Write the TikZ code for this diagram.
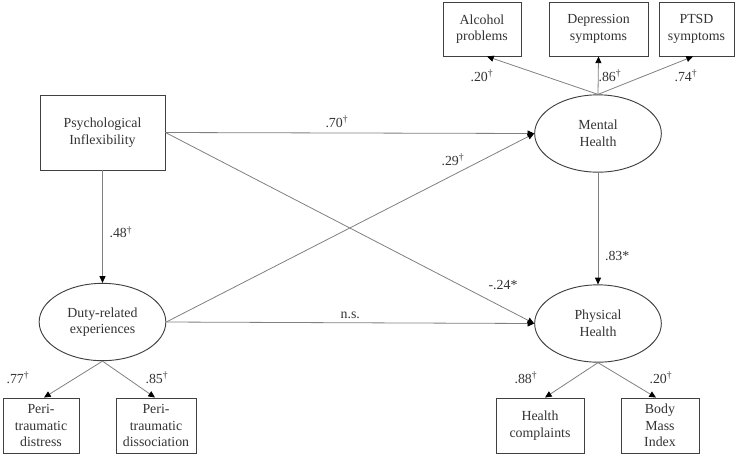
\documentclass[tikz,border=0pt]{standalone}
\usepackage{fontspec}
\setmainfont{Liberation Serif}
\usetikzlibrary{shapes.geometric, arrows.meta}

\newcommand{\sigdag}{\textsuperscript{\textdagger}}

\tikzset{
  obs/.style={draw=black!75, line width=0.7pt, align=center, inner sep=0pt, text=black!80},
  lat/.style={draw=black!75, ellipse, line width=0.7pt, align=center, inner sep=0pt,
              minimum width=95pt, minimum height=58pt, text=black!80},
  reg/.style={draw=black!50, line width=0.6pt, -{Triangle[length=5pt, width=4.5pt, color=black]}},
  coef/.style={text=black!80, inner sep=1pt}
}

\begin{document}
\begin{tikzpicture}[x=0.75pt, y=-0.75pt, font=\fontsize{10.4}{12.5}\selectfont]
    \useasboundingbox (0,0) rectangle (739,455);

    % structural part
    \node[obs, minimum width=93.75pt, minimum height=56.25pt] (psych) at (102.5,132.5) {Psychological\\Inflexibility};
    \node[lat] (duty) at (102.5,322) {Duty-related\\experiences};
    \node[lat] (mental) at (598,133.5) {Mental\\Health};
    \node[lat] (physical) at (598,323.5) {Physical\\Health};

    % indicators
    \node[obs, minimum width=58.5pt, minimum height=40.5pt] (alcohol) at (482,29) {Alcohol\\problems};
    \node[obs, minimum width=74.25pt, minimum height=40.5pt] (depress) at (598.5,29) {Depression\\symptoms};
    \node[obs, minimum width=56.25pt, minimum height=40.5pt] (ptsd) at (696.5,29) {PTSD\\symptoms};
    \node[obs, minimum width=57pt, minimum height=41.25pt] (distress) at (41,425.5) {Peri-\\traumatic\\distress};
    \node[obs, minimum width=60pt, minimum height=41.25pt] (dissoc) at (156,425.5) {Peri-\\traumatic\\dissociation};
    \node[obs, minimum width=66pt, minimum height=41.25pt] (complaints) at (540,425.5) {Health\\complaints};
    \node[obs, minimum width=58.5pt, minimum height=41.25pt] (bmi) at (660,425.5) {Body\\Mass\\Index};

    % regressions
    \draw[reg] (psych.east) -- (mental.west) node[coef, pos=0.465, above=3pt] {.70\sigdag};
    \draw[reg] (psych.south) -- (duty.north) node[coef, pos=0.55, right=4pt] {.48\sigdag};
    \draw[reg] (psych.east) -- (physical.west);
    \draw[reg] (duty.east) -- (mental.west);
    \draw[reg] (duty.east) -- (physical.west) node[coef, midway, above=2pt] {n.s.};
    \draw[reg] (mental.south) -- (physical.north) node[coef, pos=0.745, right=4pt] {.83*};
    \node[coef] (c29) at (453,160) {.29\sigdag};
    \node[coef] (c24) at (503,285) {-.24*};

    % loadings
    \draw[reg] (mental.north) -- (alcohol.south -| 487,0);
    \draw[reg] (mental.north) -- (depress.south);
    \draw[reg] (mental.north) -- (ptsd.south -| 693,0);
    \draw[reg] (duty.south) -- (distress.north -| 44,0);
    \draw[reg] (duty.south) -- (dissoc.north -| 155,0);
    \draw[reg] (physical.south) -- (complaints.north -| 545,0);
    \draw[reg] (physical.south) -- (bmi.north -| 656,0);
    \node[coef] (l1) at (482,76) {.20\sigdag};
    \node[coef] (l2) at (610,76) {.86\sigdag};
    \node[coef] (l3) at (686,76) {.74\sigdag};
    \node[coef] (l4) at (18,378) {.77\sigdag};
    \node[coef] (l5) at (157,378) {.85\sigdag};
    \node[coef] (l6) at (526,378) {.88\sigdag};
    \node[coef] (l7) at (661,378) {.20\sigdag};
\end{tikzpicture}
\end{document}
